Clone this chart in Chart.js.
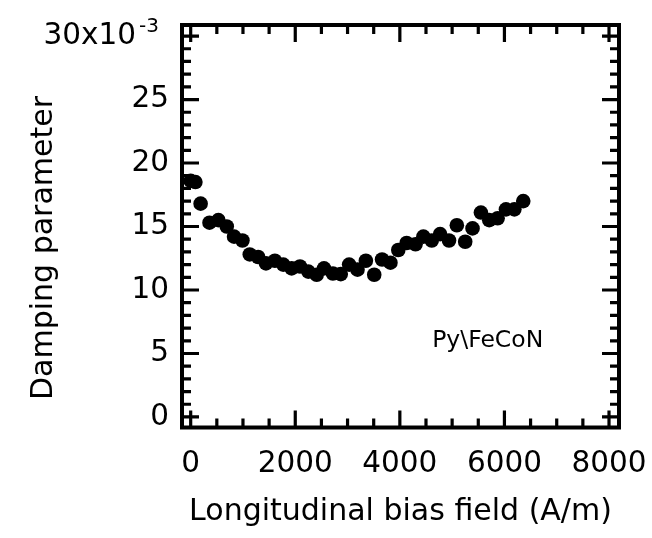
<!DOCTYPE html>
<html>
<head>
<meta charset="utf-8">
<script src="https://cdn.jsdelivr.net/npm/chart.js@4.4.0/dist/chart.umd.min.js"></script>
<style>
  html, body { margin: 0; padding: 0; background: #fff; }
</style>
</head>
<body>
<canvas id="chart" width="652" height="538"></canvas>
<script>
// bias field (A/m) and damping parameter (x10^-3)
const fieldAm = [0, 90, 190, 360, 530, 690, 830, 990, 1130, 1290,
  1440, 1610, 1770, 1930, 2090, 2250, 2410, 2550, 2720, 2870,
  3030, 3190, 3350, 3510, 3660, 3820, 3970, 4130, 4300, 4450,
  4610, 4770, 4940, 5090, 5250, 5390, 5550, 5710, 5870, 6030,
  6190, 6360];
const damping = [18.6, 18.5, 16.8, 15.3, 15.5, 15.0, 14.2, 13.9, 12.8, 12.6,
  12.1, 12.3, 12.0, 11.7, 11.85, 11.45, 11.2, 11.7, 11.3, 11.25,
  12.0, 11.6, 12.3, 11.2, 12.4, 12.15, 13.15, 13.7, 13.6, 14.2,
  13.9, 14.4, 13.9, 15.1, 13.8, 14.85, 16.1, 15.5, 15.65, 16.35,
  16.35, 17.0];
const xTicks = [0, 2000, 4000, 6000, 8000];
const yTicks = [0, 5, 10, 15, 20, 25, 30];
const sampleLabel = 'Py\\FeCoN';
const yTitle = 'Damping parameter';

Chart.defaults.font.family = 'DejaVu Sans';
Chart.defaults.color = '#000';

const noPad = (s) => { s.paddingLeft = s.paddingRight = s.paddingTop = s.paddingBottom = 0; };

// inward ticks on all four sides + frame, plus the odd bits of text
const frameTicks = {
  id: 'frameTicks',
  beforeDatasetsDraw(chart) {
    const { ctx, chartArea: a, scales: { x, y } } = chart;
    ctx.save();
    ctx.strokeStyle = '#000';
    ctx.lineWidth = 3.2;
    ctx.beginPath();
    for (let v = 0; v <= 8000; v += 500) {
      const px = x.getPixelForValue(v);
      const len = v % 2000 === 0 ? 17 : 9;
      ctx.moveTo(px, a.bottom); ctx.lineTo(px, a.bottom - len);
      ctx.moveTo(px, a.top); ctx.lineTo(px, a.top + len);
    }
    for (let v = 0; v <= 30; v += 1) {
      const py = y.getPixelForValue(v);
      const len = v % 5 === 0 ? 17 : 9;
      ctx.moveTo(a.left, py); ctx.lineTo(a.left + len, py);
      ctx.moveTo(a.right, py); ctx.lineTo(a.right - len, py);
    }
    ctx.stroke();
    ctx.lineWidth = 4;
    ctx.strokeRect(a.left, a.top, a.right - a.left, a.bottom - a.top);
    ctx.restore();
  },
  afterDraw(chart) {
    const { ctx, scales: { x, y } } = chart;
    ctx.save();
    ctx.fillStyle = '#000';
    // top y label with exponent
    ctx.font = '29.5px "DejaVu Sans"';
    ctx.textAlign = 'right';
    ctx.textBaseline = 'middle';
    ctx.fillText('30x10', 136, y.getPixelForValue(30));
    ctx.font = '20px "DejaVu Sans"';
    ctx.textAlign = 'left';
    ctx.textBaseline = 'alphabetic';
    ctx.fillText('-3', 139, y.getPixelForValue(30) - 4);
    // y title, sits a bit below the axis centre in the original
    ctx.font = '30px "DejaVu Sans"';
    ctx.textAlign = 'center';
    ctx.translate(52, 248);
    ctx.rotate(-Math.PI / 2);
    ctx.fillText(yTitle, 0, 0);
    ctx.setTransform(1, 0, 0, 1, 0, 0);
    // sample label
    ctx.font = '23.5px "DejaVu Sans"';
    ctx.textAlign = 'center';
    ctx.textBaseline = 'middle';
    ctx.fillText(sampleLabel, x.getPixelForValue(5680), y.getPixelForValue(6.0));
    ctx.restore();
  }
};

new Chart(document.getElementById('chart'), {
  type: 'scatter',
  data: {
    datasets: [{
      data: fieldAm.map((v, i) => ({ x: v, y: damping[i] })),
      backgroundColor: '#000',
      borderWidth: 0,
      pointRadius: 7.3,
      clip: false
    }]
  },
  options: {
    responsive: false,
    animation: false,
    devicePixelRatio: 1,
    layout: { padding: { left: 20, right: 33, top: 25, bottom: 4 } },
    plugins: { legend: { display: false }, tooltip: { enabled: false } },
    scales: {
      x: {
        type: 'linear',
        min: -166,
        max: 8191,
        afterBuildTicks: (s) => { s.ticks = xTicks.map(v => ({ value: v })); },
        afterFit: (s) => { s.height = 106.5; noPad(s); },
        grid: { display: false, drawTicks: false },
        border: { display: false },
        ticks: { padding: 19, maxRotation: 0, font: { size: 29.5 }, callback: (v) => String(v) },
        title: { display: true, text: 'Longitudinal bias field (A/m)', font: { size: 30 } }
      },
      y: {
        type: 'linear',
        min: -0.83,
        max: 30.87,
        afterBuildTicks: (s) => { s.ticks = yTicks.map(v => ({ value: v })); },
        afterFit: (s) => { s.width = 162; noPad(s); },
        grid: { display: false, drawTicks: false },
        border: { display: false },
        ticks: {
          padding: 13,
          font: { size: 29.5 },
          callback: (v) => (v === 30 ? '' : String(v))
        },
        title: { display: false }
      }
    }
  },
  plugins: [frameTicks]
});
</script>
</body>
</html>
